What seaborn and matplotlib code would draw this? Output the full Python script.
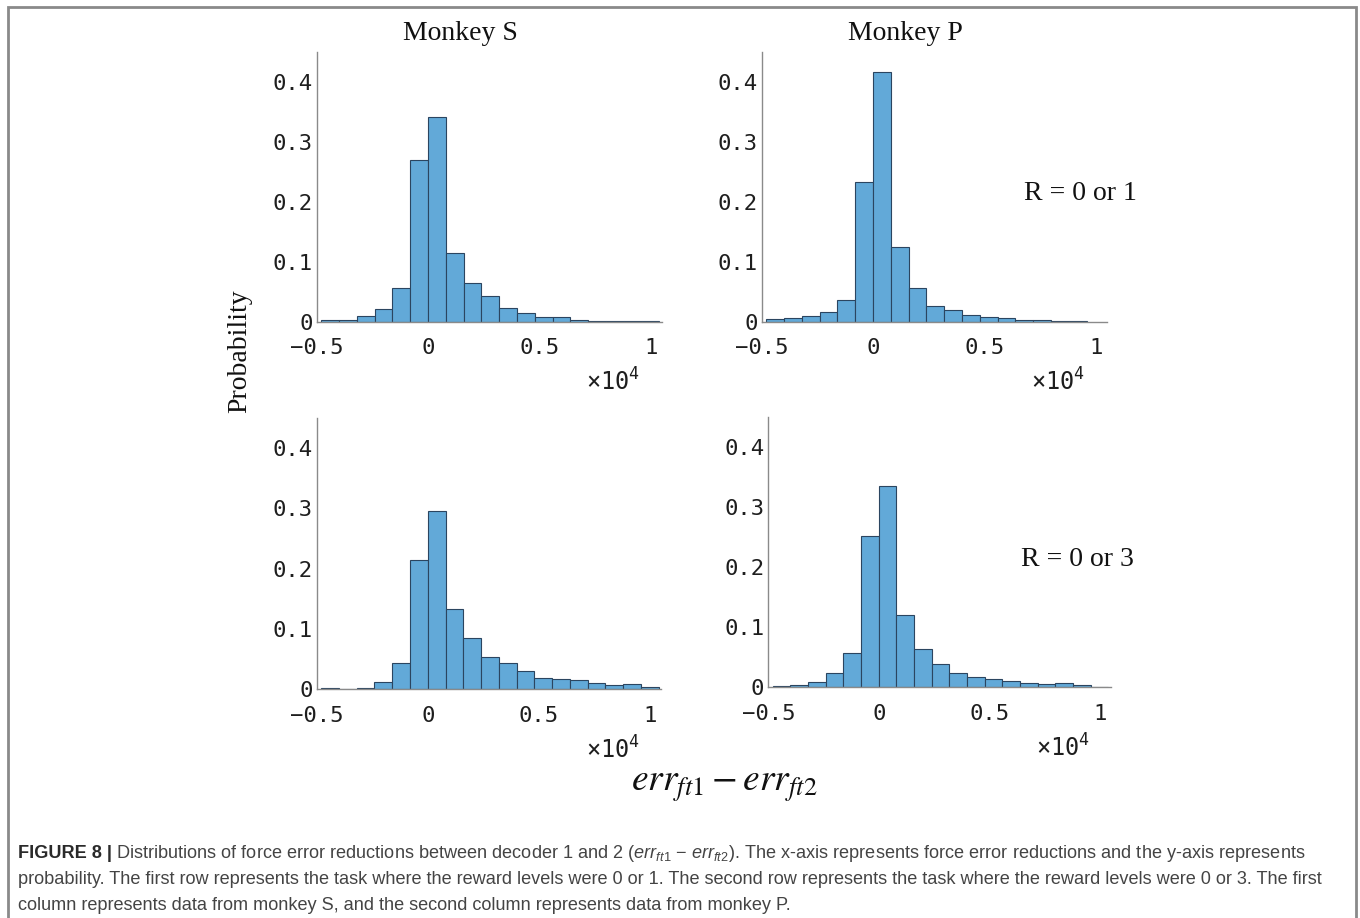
import numpy as np
import pandas as pd
import seaborn as sns
import matplotlib.pyplot as plt
from matplotlib.patches import Rectangle

# bin layout (width 800, first edge at -4800)
bin_width = 800
first_edge = -4800

# probabilities per bin
monkey_s_r1 = [0.003, 0.003, 0.009, 0.021, 0.056, 0.269, 0.342, 0.114, 0.065, 0.043,
               0.023, 0.014, 0.008, 0.008, 0.003, 0.002, 0.002, 0.0008, 0.0008]
monkey_p_r1 = [0.004, 0.007, 0.010, 0.017, 0.037, 0.233, 0.416, 0.124, 0.057, 0.026,
               0.019, 0.011, 0.008, 0.007, 0.003, 0.003, 0.001, 0.002]
monkey_s_r3 = [0.0015, 0.001, 0.002, 0.012, 0.043, 0.215, 0.295, 0.134, 0.085, 0.054,
               0.043, 0.030, 0.018, 0.017, 0.015, 0.010, 0.007, 0.008, 0.003]
monkey_p_r3 = [0.002, 0.004, 0.008, 0.023, 0.057, 0.251, 0.335, 0.120, 0.064, 0.039,
               0.023, 0.017, 0.013, 0.010, 0.007, 0.005, 0.007, 0.003, 0.001]

x_ticks = [-5000, 0, 5000, 10000]
x_tick_labels = ['\u22120.5', '0', '0.5', '1']
y_ticks = [0, 0.1, 0.2, 0.3, 0.4]
y_tick_labels = ['0', '0.1', '0.2', '0.3', '0.4']

sns.set_theme(style='white')
plt.rcParams['font.family'] = ['DejaVu Sans Mono']

W, H = 1360, 918
fig = plt.figure(figsize=(W / 100, H / 100), dpi=100)

# axes boxes in pixels: left, top, right, bottom
boxes = [
    (316.7, 52, 661.7, 321.7),
    (761.7, 52, 1106.7, 321.7),
    (316.7, 418, 661.0, 689.3),
    (768.3, 416.7, 1110.7, 687.3),
]
panels = [monkey_s_r1, monkey_p_r1, monkey_s_r3, monkey_p_r3]

bar_color = '#62A9D8'
edge_color = '#2B4560'
spine_color = '#8a8a8a'
tick_text = '#1e1e1e'

axes = []
for (l, t, r, b), probs in zip(boxes, panels):
    ax = fig.add_axes([l / W, 1 - b / H, (r - l) / W, (b - t) / H])
    n = len(probs)
    df = pd.DataFrame({'x': first_edge + bin_width * (np.arange(n) + 0.5),
                       'p': probs})
    sns.histplot(data=df, x='x', weights='p', binwidth=bin_width,
                 binrange=(first_edge, first_edge + bin_width * n), ax=ax,
                 color=bar_color, edgecolor=edge_color, linewidth=0.8, alpha=1)
    ax.set_xlim(-5000, 10500)
    ax.set_ylim(0, 0.45)
    ax.set_xticks(x_ticks)
    ax.set_xticklabels(x_tick_labels)
    ax.set_yticks(y_ticks)
    ax.set_yticklabels(y_tick_labels)
    ax.set_xlabel('')
    ax.set_ylabel('')
    for side in ['top', 'right']:
        ax.spines[side].set_visible(False)
    for side in ['left', 'bottom']:
        ax.spines[side].set_color(spine_color)
        ax.spines[side].set_linewidth(1.0)
    ax.tick_params(direction='in', length=4, width=0.8, color=spine_color,
                   labelsize=16, labelcolor=tick_text)
    ax.tick_params(axis='y', pad=3)
    ax.tick_params(axis='x', pad=12)
    ax.text(0.86, -0.225, r'$\mathregular{\times10^4}$', transform=ax.transAxes,
            ha='center', va='center', fontsize=17, color=tick_text,
            family='DejaVu Sans Mono')
    axes.append(ax)

serif = 'Liberation Serif'
fig.text(460 / W, 1 - 33 / H, 'Monkey S', ha='center', va='center',
         family=serif, fontsize=20, color='#111111')
fig.text(905 / W, 1 - 33 / H, 'Monkey P', ha='center', va='center',
         family=serif, fontsize=20, color='#111111')
fig.text(240 / W, 1 - 351 / H, 'Probability', ha='center', va='center',
         rotation=90, family=serif, fontsize=20, color='#111111')
fig.text(1080 / W, 1 - 193 / H, 'R = 0 or 1', ha='center', va='center',
         family=serif, fontsize=20, color='#111111')
fig.text(1077 / W, 1 - 560 / H, 'R = 0 or 3', ha='center', va='center',
         family=serif, fontsize=20, color='#111111')
fig.text(724 / W, 1 - 786 / H, r'$err_{ft1} - err_{ft2}$', ha='center',
         va='center', fontsize=27, math_fontfamily='stix', color='#111111')

# caption
plt.rcParams['mathtext.fontset'] = 'custom'
plt.rcParams['mathtext.rm'] = 'Liberation Sans'
plt.rcParams['mathtext.it'] = 'Liberation Sans:italic'
cap_size = 13.1
cap_color = '#444444'
bold = fig.text(18 / W, 1 - 853 / H, 'FIGURE 8 |', ha='left', va='center',
                family='Liberation Sans', weight='bold', fontsize=cap_size,
                color='#2a2a2a')
fig.canvas.draw()
bb = bold.get_window_extent()
fig.text(bb.x1 / W + 4 / W, 1 - 853 / H,
         r'Distributions of force error reductions between decoder 1 and 2 '
         r'($err_{ft1}$ $-$ $err_{ft2}$). The x-axis represents force error '
         r'reductions and the y-axis represents',
         ha='left', va='center', family='Liberation Sans', fontsize=cap_size,
         color=cap_color, math_fontfamily='custom')
fig.text(18 / W, 1 - 879 / H,
         'probability. The first row represents the task where the reward levels '
         'were 0 or 1. The second row represents the task where the reward levels '
         'were 0 or 3. The first',
         ha='left', va='center', family='Liberation Sans', fontsize=cap_size,
         color=cap_color)
fig.text(18 / W, 1 - 905 / H,
         'column represents data from monkey S, and the second column represents '
         'data from monkey P.',
         ha='left', va='center', family='Liberation Sans', fontsize=cap_size,
         color=cap_color)

# frame around the figure, open at the bottom
fig.patches.append(Rectangle((7.5 / W, -0.05), (1356 - 7.5) / W, 1.05 - 7 / H,
                             transform=fig.transFigure, fill=False,
                             edgecolor='#8a8a8a', linewidth=2))

fig.savefig('out.png', dpi=100)
